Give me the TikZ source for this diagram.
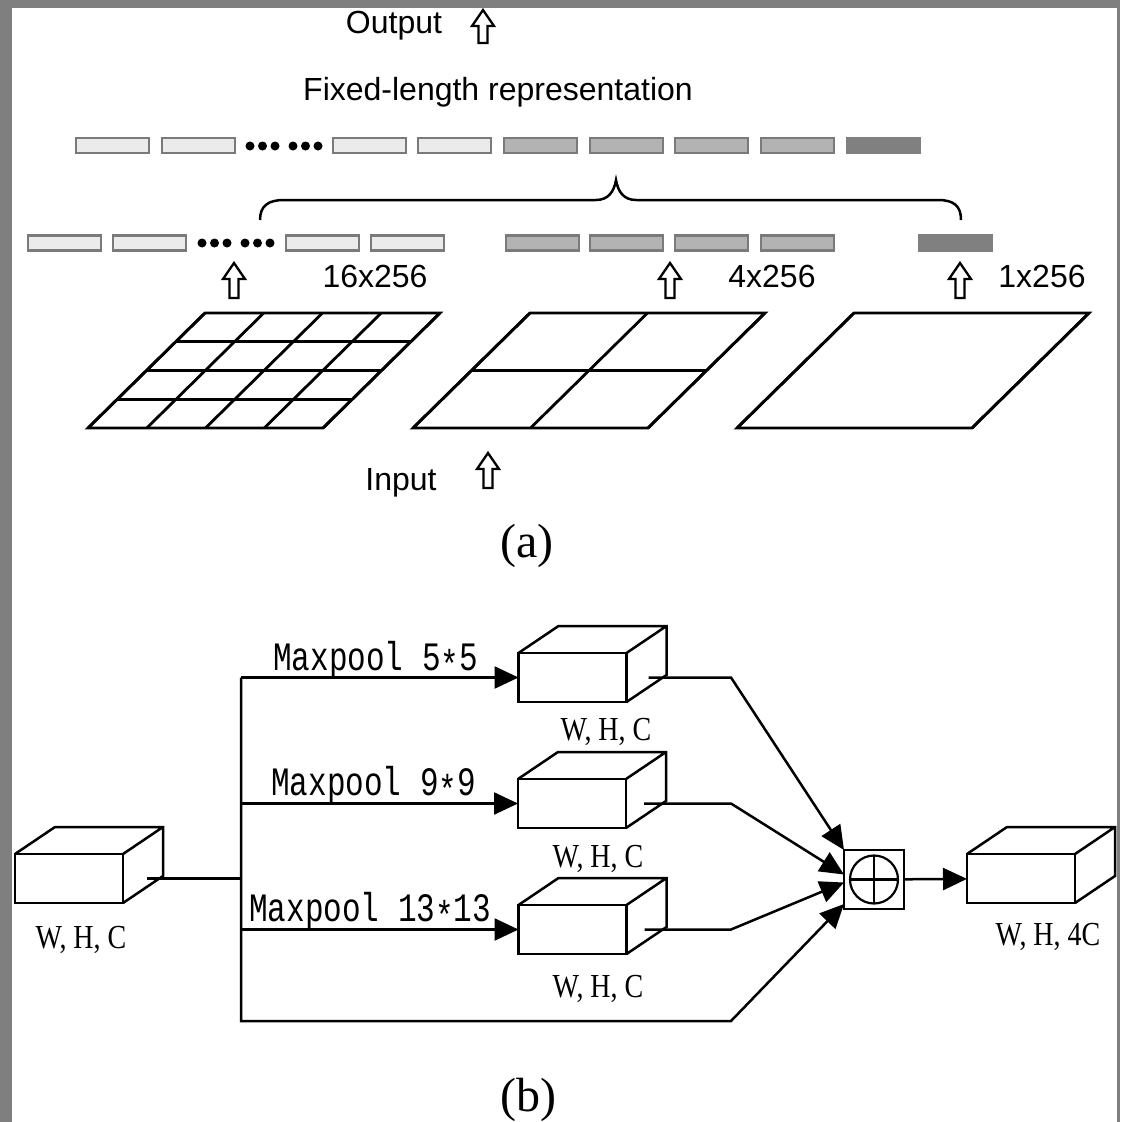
\documentclass[tikz,border=0pt]{standalone}
\usepackage{fontspec}
\setmainfont{Liberation Serif}
\setsansfont{Liberation Sans}
\setmonofont{Liberation Mono}
\usepackage{tikz}
\usetikzlibrary{arrows.meta,calc}
\definecolor{framegray}{HTML}{7F7F7F}
\definecolor{barline}{HTML}{7A7A7A}
\definecolor{lightbar}{HTML}{EBEBEB}
\definecolor{midbar}{HTML}{B3B3B3}
\definecolor{darkbar}{HTML}{808080}
\tikzset{
  bar/.style={draw=barline, line width=2.5pt, minimum width=73pt, minimum height=15pt, inner sep=0pt},
  grid/.style={line width=2.8pt},
  hollow/.style={line width=2.3pt, line join=miter},
  sanstext/.style={inner sep=0pt, anchor=base, font=\sffamily\fontsize{32}{36}\selectfont},
  tag/.style={inner sep=0pt, anchor=base, font=\rmfamily\fontsize{48}{54}\selectfont},
  cube/.style={draw, line width=2.5pt, minimum width=108pt, minimum height=49pt, inner sep=0pt, outer sep=0pt},
  conn/.style={line width=2.5pt},
  arr/.style={conn, -{Triangle[length=24pt,width=22pt]}},
}
\newcommand{\pooltext}[1]{\scalebox{1}[1.3]{\ttfamily\fontsize{31}{36}\selectfont #1}}
\newcommand{\dimtext}[1]{\scalebox{1}[1.2]{\rmfamily\fontsize{28}{32}\selectfont #1}}
\newcommand{\lowstar}{\raisebox{-0.22em}{*}}
\begin{document}
\begin{tikzpicture}[x=1pt,y=-1pt]
\useasboundingbox (0,0) rectangle (1120,1122);
\fill[framegray] (0,0) rectangle (1120,1122);
\fill[white] (12,8) rectangle (1117,1122);
\node[sanstext] (outlabel) at (394,33) {Output};
\node[sanstext] (fixed) at (498,100) {Fixed-length representation};
\foreach \x in {75,161,332,417} \node[bar, fill=lightbar] (top\x) at (\x+37.5,145.5) {};
\foreach \x in {503,589,674,760} \node[bar, fill=midbar] (top\x) at (\x+37.5,145.5) {};
\node[bar, fill=darkbar, draw=darkbar] (top846) at (883.5,145.5) {};
\foreach \x in {250,262.5,275,293,305.5,318} \fill (\x,146) circle (4.5pt);
\foreach \x in {27,112,285,370} \node[bar, fill=lightbar] (low\x) at (\x+37.5,243) {};
\foreach \x in {505,589,674,760} \node[bar, fill=midbar] (low\x) at (\x+37.5,243) {};
\node[bar, fill=darkbar, draw=darkbar] (low918) at (955.5,243) {};
\foreach \x in {202,214.5,227,245,257.5,270} \fill (\x,243) circle (4.5pt);
\draw[line width=2.5pt] (260,220) .. controls (260,206) and (268,200) .. (284,200) -- (596,200) .. controls (608,200) and (614,192) .. (616,180) .. controls (618,192) and (624,200) .. (636,200) -- (938,200) .. controls (954,200) and (961,206) .. (961,220);
\foreach \c/\t/\b in {483/10/43,234/263/298,670/263/298,960/263/298,488/453/488}
  \draw[hollow] (\c,\t) -- (\c+11,\t+16) -- (\c+4.5,\t+16) -- (\c+4.5,\b) -- (\c-4.5,\b) -- (\c-4.5,\t+16) -- (\c-11,\t+16) -- cycle;
\node[sanstext] (size16) at (375,287) {16x256};
\node[sanstext] (size4) at (772,287) {4x256};
\node[sanstext] (size1) at (1042,287) {1x256};
\foreach \x/\n in {88/4,413/2,737/1}{
  \draw[grid] (\x,428) -- ++(235,0) -- ++(117,-115) -- ++(-235,0) -- cycle;
  \foreach \i in {0,...,\n}{
    \draw[grid] (\x+117*\i/\n,428-115*\i/\n) -- ++(235,0);
    \draw[grid] (\x+235*\i/\n,428) -- ++(117,-115);
  }
}
\node[sanstext] (inlabel) at (401,490) {Input};
\node[tag] (taga) at (527,557) {(a)};
\node[cube] (in) at (69,878.5) {};
\node[cube] (b1) at (572.5,677.5) {};
\node[cube] (b2) at (572,803.5) {};
\node[cube] (b3) at (572.5,929.5) {};
\node[cube] (out) at (1021,878.5) {};
\foreach \n in {in,b1,b2,b3,out}
  \draw[line width=2.5pt] (\n.north west) -- ++(40,-27) -| ($(\n.south east)+(40,-27)$) -- (\n.south east) (\n.north east) -- ++(40,-27);
\node[draw, line width=2.5pt, minimum width=60pt, minimum height=59pt, inner sep=0pt, outer sep=0pt] (sum) at (874,879.5) {};
\draw[line width=2.2pt] (sum.center) circle (24pt);
\draw[line width=2.2pt] ($(sum.center)+(0,-24)$) -- ++(0,48) ($(sum.center)+(-24,0)$) -- ++(48,0);
\coordinate (split) at (241,878.5);
\coordinate (fork1) at (241,677.5);
\coordinate (fork2) at (241,803.5);
\coordinate (fork3) at (241,929.5);
\coordinate (fork4) at (241,1021);
\coordinate (bend1) at (731,677.5);
\coordinate (bend2) at (731,803.5);
\coordinate (bend3) at (731,929.5);
\coordinate (bend4) at (731,1021);
\draw[conn] ([xshift=24pt]in.east) -- (split);
\draw[arr] (fork1) -- (fork4) -- (bend4) -- ([yshift=5pt]sum.south west);
\draw[arr] (fork1) -- (b1.west);
\draw[arr] (fork2) -- (b2.west);
\draw[arr] (fork3) -- (b3.west);
\draw[arr] ([xshift=22pt]b1.east) -- (bend1) -- (sum.north west);
\draw[arr] ([xshift=18pt]b2.east) -- (bend2) -- ([yshift=5pt]sum.west);
\draw[arr] ([xshift=18pt]b3.east) -- (bend3) -- ([yshift=-3pt]sum.west);
\draw[arr] (sum) -- (out);
\node[inner sep=0pt, anchor=base west] (pool5) at (273,670) {\pooltext{Maxpool 5\lowstar5}};
\node[inner sep=0pt, anchor=base west] (pool9) at (271,795) {\pooltext{Maxpool 9\lowstar9}};
\node[inner sep=0pt, anchor=base west] (pool13) at (249,921) {\pooltext{Maxpool 13\lowstar13}};
\node[inner sep=0pt, anchor=base] (dimin) at (81,948) {\dimtext{W, H, C}};
\node[inner sep=0pt, anchor=base] (dim1) at (606,740) {\dimtext{W, H, C}};
\node[inner sep=0pt, anchor=base] (dim2) at (598,867) {\dimtext{W, H, C}};
\node[inner sep=0pt, anchor=base] (dim3) at (598,997) {\dimtext{W, H, C}};
\node[inner sep=0pt, anchor=base] (dimout) at (1048,945) {\dimtext{W, H, 4C}};
\node[tag] (tagb) at (528,1111) {(b)};
\end{tikzpicture}
\end{document}
